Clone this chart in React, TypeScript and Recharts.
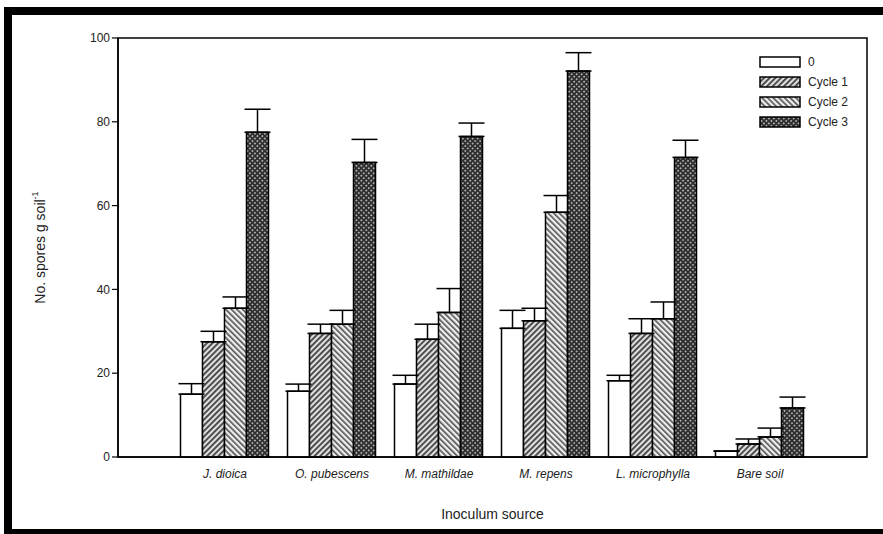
import React from 'react';
import { BarChart, Bar, XAxis, YAxis, ErrorBar, Legend, ReferenceArea } from 'recharts';

const categories = ['J. dioica', 'O. pubescens', 'M. mathildae', 'M. repens', 'L. microphylla', 'Bare soil'];
const seriesNames = ['0', 'Cycle 1', 'Cycle 2', 'Cycle 3'];

// means
const cycle0 = [15, 15.7, 17.4, 30.7, 18.2, 1.4];
const cycle1 = [27.5, 29.5, 28.1, 32.5, 29.5, 3.1];
const cycle2 = [35.5, 31.7, 34.5, 58.4, 33, 4.8];
const cycle3 = [77.5, 70.3, 76.5, 92.1, 71.5, 11.7];

// upper error bar lengths
const err0 = [2.5, 1.7, 2.1, 4.3, 1.3, 0];
const err1 = [2.5, 2.2, 3.6, 3, 3.5, 1.2];
const err2 = [2.7, 3.3, 5.7, 4, 4, 2.1];
const err3 = [5.5, 5.5, 3.2, 4.4, 4.1, 2.6];

const yTicks = [0, 20, 40, 60, 80, 100];

// categories sit at 1..6 on a 0..7 axis, like the original plot
const xTicks = categories.map((_, i) => i + 1);

const data = categories.map((name, i) => ({
  name,
  pos: i + 1,
  c0: cycle0[i],
  c1: cycle1[i],
  c2: cycle2[i],
  c3: cycle3[i],
  e0: [0, err0[i]],
  e1: [0, err1[i]],
  e2: [0, err2[i]],
  e3: [0, err3[i]],
}));

const FILLS = ['#ffffff', 'url(#hatch1)', 'url(#hatch2)', 'url(#dots3)'];
const FONT = '"Liberation Sans", Arial, sans-serif';

const YLabel = ({ viewBox }: any) => {
  const x = viewBox.x + 22;
  const y = viewBox.y + viewBox.height / 2;
  return (
    <text
      x={x}
      y={y}
      transform={`rotate(-90 ${x} ${y})`}
      textAnchor="middle"
      dominantBaseline="central"
      fontFamily={FONT}
      fontSize={14}
      fill="#222"
    >
      No. spores g soil
      <tspan dy={-5} fontSize={9}>-1</tspan>
    </text>
  );
};

const renderLegend = () => (
  <div style={{ fontFamily: FONT, fontSize: 12, color: '#222' }}>
    {seriesNames.map((s, i) => (
      <div key={s} style={{ display: 'flex', alignItems: 'center', height: 20 }}>
        <svg width={42} height={12} style={{ marginRight: 7 }}>
          <rect x={1} y={1} width={40} height={10} fill={FILLS[i]} stroke="#000" strokeWidth={1.5} />
        </svg>
        <span>{s}</span>
      </div>
    ))}
  </div>
);

const App = () => {
  return (
    <div style={{ position: 'fixed', left: 0, top: 0, width: 883, height: 534, background: '#fff' }}>
      {/* black scan frame */}
      <div style={{ position: 'absolute', left: 4, top: 7, width: 879, height: 8, background: '#000' }} />
      <div style={{ position: 'absolute', left: 4, top: 7, width: 8, height: 527, background: '#000' }} />
      <div style={{ position: 'absolute', left: 4, top: 529, width: 879, height: 5, background: '#000' }} />

      <div style={{ position: 'absolute', left: 0, top: 0 }}>
        <BarChart
          width={883}
          height={534}
          data={data}
          margin={{ top: 38, right: 16, left: 18, bottom: 12 }}
          barCategoryGap={9}
          barGap={0}
        >
          <defs>
            <pattern id="hatch1" width="4" height="4" patternUnits="userSpaceOnUse" patternTransform="rotate(45)">
              <rect width="4" height="4" fill="#e0e0e0" />
              <rect width="1.8" height="4" fill="#404040" />
            </pattern>
            <pattern id="hatch2" width="4" height="4" patternUnits="userSpaceOnUse" patternTransform="rotate(-45)">
              <rect width="4" height="4" fill="#eeeeee" />
              <rect width="1.6" height="4" fill="#505050" />
            </pattern>
            <pattern id="dots3" width="3.5" height="3.5" patternUnits="userSpaceOnUse" patternTransform="rotate(45)">
              <rect width="3.5" height="3.5" fill="#2e2e2e" />
              <rect x="1" y="1" width="1.5" height="1.5" fill="#d8d8d8" />
            </pattern>
          </defs>
          <XAxis
            type="number"
            dataKey="pos"
            domain={[0, categories.length + 1]}
            ticks={xTicks}
            tickFormatter={(v: number) => categories[v - 1] ?? ''}
            height={65}
            tickLine={false}
            axisLine={{ stroke: '#000', strokeWidth: 1.5 }}
            tick={{ fill: '#222', fontSize: 12, fontFamily: FONT, fontStyle: 'italic' }}
            tickMargin={6}
            label={{
              value: 'Inoculum source',
              position: 'insideBottom',
              offset: 3,
              fill: '#222',
              fontSize: 14,
              fontFamily: FONT,
            }}
          />
          <YAxis
            domain={[0, 100]}
            ticks={yTicks}
            width={100}
            tickSize={6}
            tickLine={{ stroke: '#000', strokeWidth: 1.2 }}
            axisLine={{ stroke: '#000', strokeWidth: 1.5 }}
            tick={{ fill: '#222', fontSize: 12, fontFamily: FONT }}
            label={{ content: YLabel }}
          />
          {/* plot frame (top and right sides) */}
          <ReferenceArea y1={0} y2={100} fill="none" stroke="#000" strokeWidth={1.5} ifOverflow="visible" />
          <Legend
            layout="horizontal"
            verticalAlign="middle"
            align="center"
            content={renderLegend}
            wrapperStyle={{ position: 'absolute', top: 52, left: 759, width: 110, height: 80 }}
          />
          {['c0', 'c1', 'c2', 'c3'].map((k, i) => (
            <Bar
              key={k}
              dataKey={k}
              name={seriesNames[i]}
              fill={FILLS[i]}
              stroke="#000"
              strokeWidth={1.5}
              isAnimationActive={false}
            >
              <ErrorBar dataKey={`e${i}`} width={13} stroke="#000" strokeWidth={1.5} direction="y" />
            </Bar>
          ))}
        </BarChart>
      </div>
    </div>
  );
};

export default App;
